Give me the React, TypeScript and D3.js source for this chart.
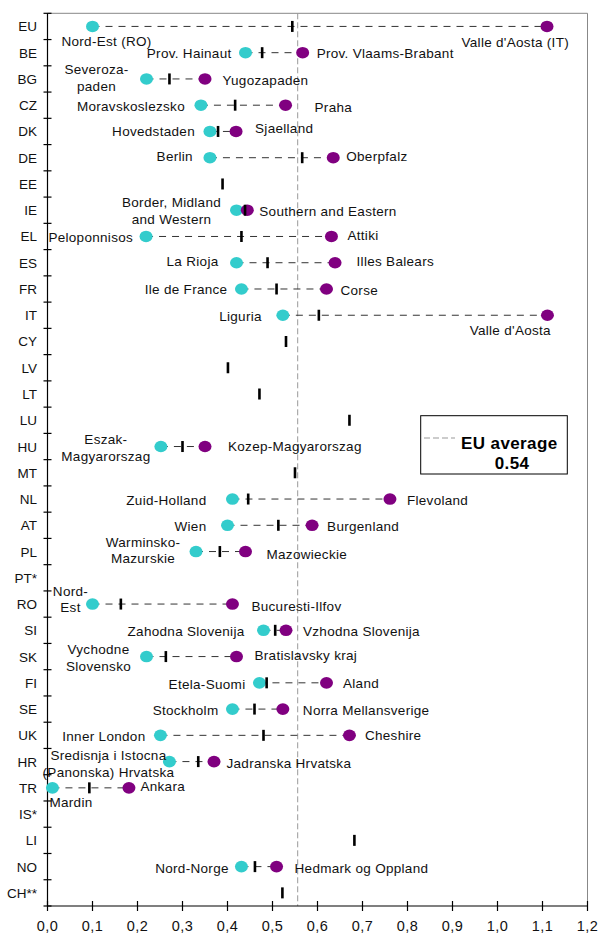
import React from 'react'
import * as d3 from 'd3'

// one row per country, top to bottom
const countries = ['EU', 'BE', 'BG', 'CZ', 'DK', 'DE', 'EE', 'IE', 'EL', 'ES', 'FR', 'IT', 'CY', 'LV', 'LT', 'LU', 'HU', 'MT', 'NL', 'AT', 'PL', 'PT*', 'RO', 'SI', 'SK', 'FI', 'SE', 'UK', 'HR', 'TR', 'IS*', 'LI', 'NO', 'CH**']

// national value (black tick), null = no data
const national = [0.544, 0.477, 0.271, 0.417, 0.379, 0.566, 0.389, 0.439, 0.431, 0.489, 0.509, 0.603, 0.530, 0.401, 0.471, 0.671, 0.300, 0.550, 0.446, 0.513, 0.383, null, 0.163, 0.506, 0.263, 0.487, 0.460, 0.480, 0.335, 0.093, null, 0.682, 0.461, 0.522]

// lowest region (cyan) and highest region (purple)
const minValues = [0.10, 0.440, 0.220, 0.341, 0.361, 0.361, null, 0.420, 0.219, 0.420, 0.431, 0.523, null, null, null, null, 0.252, null, 0.411, 0.400, 0.330, null, 0.100, 0.480, 0.220, 0.471, 0.411, 0.251, 0.271, 0.011, null, null, 0.431, null]
const maxValues = [1.11, 0.567, 0.350, 0.529, 0.419, 0.635, null, 0.444, 0.631, 0.639, 0.620, 1.111, null, null, null, null, 0.350, null, 0.761, 0.588, 0.440, null, 0.411, 0.530, 0.420, 0.620, 0.523, 0.671, 0.370, 0.181, null, null, 0.509, null]

const minRegions = ['Nord-Est (RO)', 'Prov. Hainaut', 'Severoza-\npaden', 'Moravskoslezsko', 'Hovedstaden', 'Berlin', '', 'Border, Midland\nand Western', 'Peloponnisos', 'La Rioja', 'Ile de France', 'Liguria', '', '', '', '', 'Eszak-\nMagyarorszag', '', 'Zuid-Holland', 'Wien', 'Warminsko-\nMazurskie', '', 'Nord-\nEst', 'Zahodna Slovenija', 'Vychodne\nSlovensko', 'Etela-Suomi', 'Stockholm', 'Inner London', 'Sredisnja i Istocna\n(Panonska) Hrvatska', 'Mardin', '', '', 'Nord-Norge', '']
const maxRegions = ["Valle d'Aosta (IT)", 'Prov. Vlaams-Brabant', 'Yugozapaden', 'Praha', 'Sjaelland', 'Oberpfalz', '', 'Southern and Eastern', 'Attiki', 'Illes Balears', 'Corse', "Valle d'Aosta", '', '', '', '', 'Kozep-Magyarorszag', '', 'Flevoland', 'Burgenland', 'Mazowieckie', '', 'Bucuresti-Ilfov', 'Vzhodna Slovenija', 'Bratislavsky kraj', 'Aland', 'Norra Mellansverige', 'Cheshire', 'Jadranska Hrvatska', 'Ankara', '', '', 'Hedmark og Oppland', '']

const xTicks = [0, 0.1, 0.2, 0.3, 0.4, 0.5, 0.6, 0.7, 0.8, 0.9, 1.0, 1.1, 1.2]
const xTickLabels = ['0,0', '0,1', '0,2', '0,3', '0,4', '0,5', '0,6', '0,7', '0,8', '0,9', '1,0', '1,1', '1,2']

const avgLine = 0.556
const avgLabel = '0.54'

// label placement: [anchor, dx from dot, baseline offset(s) from row centre]
type Place = [string, number, number[]]
const minPlace: Record<string, Place> = {
  EU: ['middle', 14, [20]], BE: ['end', -14, [5]], BG: ['middle', -50, [-4.5, 12]],
  CZ: ['end', -16, [6]], DK: ['end', -15, [4.5]], DE: ['end', -17, [3.5]],
  IE: ['middle', -65, [-3, 13.5]], EL: ['end', -13, [6]], ES: ['end', -18, [3.5]],
  FR: ['end', -14, [5.5]], IT: ['end', -21, [6]], HU: ['middle', -55, [-2.5, 14]],
  NL: ['end', -26, [5.5]], AT: ['end', -21, [5.3]], PL: ['middle', -53, [-5, 11.5]],
  RO: ['middle', -22, [-8.5, 8]], SI: ['end', -19, [5.3]], SK: ['middle', -48, [-2.6, 14]],
  FI: ['end', -14, [5.8]], SE: ['end', -14, [5.6]], UK: ['end', -15, [6]],
  HR: ['middle', -61, [-1.2, 15.8]], TR: ['start', -3, [19.5]], NO: ['end', -12.7, [6.4]],
}
const maxPlace: Record<string, Place> = {
  EU: ['end', 22, [21]], BE: ['start', 14, [5]], BG: ['start', 17.5, [5.6]],
  CZ: ['start', 29, [7.3]], DK: ['start', 19, [1.4]], DE: ['start', 13, [2.8]],
  IE: ['start', 12, [6]], EL: ['start', 16, [4]], ES: ['start', 21.5, [3.5]],
  FR: ['start', 14, [5.6]], IT: ['end', 3.5, [19.3]], HU: ['start', 23, [4.1]],
  NL: ['start', 17, [5.6]], AT: ['start', 15, [5.3]], PL: ['start', 21, [7]],
  RO: ['start', 19, [7.3]], SI: ['start', 17, [6]], SK: ['start', 18, [3.1]],
  FI: ['start', 16.5, [5.1]], SE: ['start', 20, [5.6]], UK: ['start', 15.5, [5]],
  HR: ['start', 12.5, [6.4]], TR: ['start', 11.5, [3.5]], NO: ['start', 18, [6.4]],
}

const W = 598
const H = 934
const left = 47.5
const right = 587.5
const top = 13.3
const bottom = 906

const FONT = '"Liberation Sans", Arial, sans-serif'
const CYAN = '#33CCCC'
const PURPLE = '#800080'

const RegionLabel = ({ text, x, yc, place }: { text: string, x: number, yc: number, place: Place }) => {
  const lines = text.split('\n')
  return (
    <text textAnchor={place[0]} fontSize='13.5' letterSpacing='0.3' fill='#111'>
      {lines.map((l, i) => (
        <tspan key={i} x={x + place[1]} y={yc + place[2][i]}>{l}</tspan>
      ))}
    </text>
  )
}

const App = () => {
  const x = d3.scaleLinear().domain([0, 1.2]).range([left, right])
  const y = d3.scaleBand().domain(countries).range([top, bottom]).padding(0)
  const bw = y.bandwidth()
  const bounds = d3.range(countries.length + 1).map(i => top + i * bw)

  return (
    <svg width={W} height={H} style={{ position: 'absolute', left: 0, top: 0, background: '#fff' }} fontFamily={FONT}>
      {/* frame */}
      <line x1={left} x2={right} y1={top} y2={top} stroke='#888' strokeWidth='1' />
      <line x1={right} x2={right} y1={top} y2={bottom} stroke='#888' strokeWidth='1' />

      {/* EU average line */}
      <line x1={x(avgLine)} x2={x(avgLine)} y1={top} y2={bottom} stroke='#999' strokeWidth='1' strokeDasharray='6,3' />

      {/* y axis */}
      <line x1={left} x2={left} y1={top} y2={bottom} stroke='#000' strokeWidth='1.2' />
      {bounds.map((b, i) => (
        <line key={i} x1={left - 4} x2={left + 4} y1={b} y2={b} stroke='#000' strokeWidth='1.2' />
      ))}
      {countries.map(c => (
        <text key={c} x={37} y={y(c)! + bw / 2 + 5} textAnchor='end' fontSize='13.5' fill='#111'>{c}</text>
      ))}

      {/* x axis */}
      <line x1={left} x2={right} y1={bottom} y2={bottom} stroke='#000' strokeWidth='1.2' />
      {xTicks.map((t, i) => (
        <g key={t}>
          <line x1={x(t)} x2={x(t)} y1={bottom - 5} y2={bottom + 5} stroke='#000' strokeWidth='1.2' />
          <text x={x(t)} y={930.5} textAnchor='middle' fontSize='14.5' letterSpacing='0.4' fill='#111'>{xTickLabels[i]}</text>
        </g>
      ))}

      {/* connectors */}
      {countries.map((c, i) => minValues[i] != null && maxValues[i] != null && (
        <line key={c} x1={x(minValues[i]!)} x2={x(maxValues[i]!)} y1={y(c)! + bw / 2} y2={y(c)! + bw / 2}
          stroke='#333' strokeWidth='1' strokeDasharray='7,6' />
      ))}

      {/* region dots */}
      {countries.map((c, i) => minValues[i] != null && (
        <ellipse key={c} cx={x(minValues[i]!)} cy={y(c)! + bw / 2} rx='6.5' ry='5.8' fill={CYAN} />
      ))}
      {countries.map((c, i) => maxValues[i] != null && (
        <ellipse key={c} cx={x(maxValues[i]!)} cy={y(c)! + bw / 2} rx='6.5' ry='5.8' fill={PURPLE} />
      ))}

      {/* national ticks */}
      {countries.map((c, i) => national[i] != null && (
        <rect key={c} x={x(national[i]!) - 1.3} y={y(c)! + bw / 2 - 5.5} width='2.6' height='11' fill='#000' />
      ))}

      {/* region labels */}
      {countries.map((c, i) => minRegions[i] && minValues[i] != null && (
        <RegionLabel key={c} text={minRegions[i]} x={x(minValues[i]!)} yc={y(c)! + bw / 2} place={minPlace[c]} />
      ))}
      {countries.map((c, i) => maxRegions[i] && maxValues[i] != null && (
        <RegionLabel key={c} text={maxRegions[i]} x={x(maxValues[i]!)} yc={y(c)! + bw / 2} place={maxPlace[c]} />
      ))}

      {/* legend */}
      <rect x={420.7} y={415.7} width={146.6} height={58.3} fill='#fff' stroke='#000' strokeWidth='1' />
      <line x1={424} x2={455} y1={438} y2={438} stroke='#999' strokeWidth='1' strokeDasharray='6,3' />
      <text x={461} y={448.5} fontSize='17' fontWeight='bold' letterSpacing='0.4' fill='#000'>EU average</text>
      <text x={512} y={468.5} fontSize='17' fontWeight='bold' letterSpacing='0.4' fill='#000' textAnchor='middle'>{avgLabel}</text>
    </svg>
  )
}

export default App
